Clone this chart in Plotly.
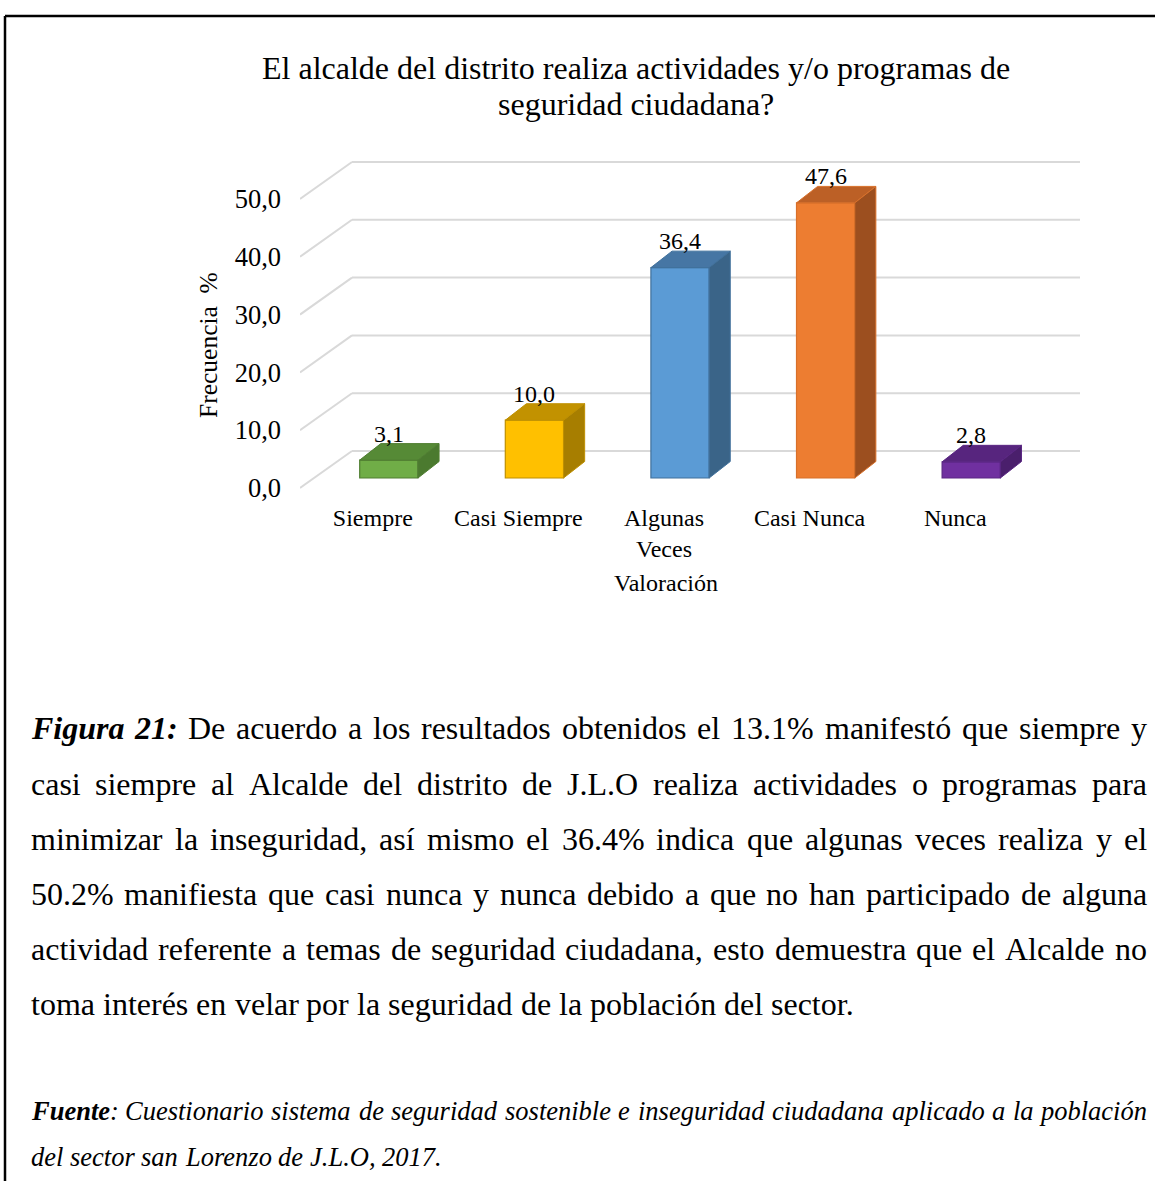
import plotly.graph_objects as go

# ---------------- data ----------------
TITLE_LINES = ["El alcalde del distrito realiza actividades y/o programas de",
               "seguridad ciudadana?"]
CATEGORIES = ["Siempre", "Casi Siempre", "Algunas Veces", "Casi Nunca", "Nunca"]
CATEGORY_LABELS = ["Siempre", "Casi Siempre", "Algunas<br>Veces", "Casi Nunca", "Nunca"]
VALUES = [3.1, 10.0, 36.4, 47.6, 2.8]
VALUE_LABELS = ["3,1", "10,0", "36,4", "47,6", "2,8"]
Y_TICKS = [0, 10, 20, 30, 40, 50]
Y_TICK_LABELS = ["0,0", "10,0", "20,0", "30,0", "40,0", "50,0"]
X_TITLE = "Valoración"
Y_TITLE = "Frecuencia\u00a0\u00a0%"

CAPTION_LINES = [
    "Figura 21: De acuerdo a los resultados obtenidos el 13.1% manifestó que siempre y",
    "casi siempre al Alcalde del distrito de J.L.O realiza actividades o programas para",
    "minimizar la inseguridad, así mismo el 36.4% indica que algunas veces realiza y el",
    "50.2% manifiesta que casi nunca y nunca debido a que no han participado de alguna",
    "actividad referente a temas de seguridad ciudadana, esto demuestra que el Alcalde no",
    "toma interés en velar por la seguridad de la población del sector.",
]
CAPTION_LEAD = ["Figura", "21:"]
SOURCE_LINES = [
    "Fuente: Cuestionario sistema de seguridad sostenible e inseguridad ciudadana aplicado a la población",
    "del sector san Lorenzo de J.L.O, 2017.",
]
SOURCE_LEAD = "Fuente"

# ---------------- style ----------------
FRONT = ["#70AD47", "#FFC000", "#5B9BD5", "#ED7D31", "#7030A0"]
TOP = ["#568A36", "#C29200", "#4676A4", "#BC6026", "#57257E"]
SIDE = ["#4B7A2F", "#A77E00", "#3A6488", "#9C4F1F", "#4A1F6C"]
EDGE = ["#507E32", "#BF9000", "#41719C", "#D8702A", "#5A2683"]
GRID = "#D9D9D9"
FONT = "Liberation Serif"

W, H = 1155, 1181
# pseudo-3D geometry in axis units
DEPTH_DX, DEPTH_DY = 0.357, 6.4        # back wall offset
BAR_DX, BAR_DY = 0.11, 1.73            # bar front-plane offset
BAR_W = 0.4
BAR_DEPTH_DX, BAR_DEPTH_DY = 0.145, 2.85
Y_PX = 5.78

def px(x):
    return x / W

def py(y):
    return 1 - y / H

fig = go.Figure()

# bar front faces
fig.add_trace(go.Bar(
    x=[i + BAR_DX for i in range(len(VALUES))], y=VALUES, base=[BAR_DY] * len(VALUES),
    width=BAR_W, marker=dict(color=FRONT, line=dict(color=EDGE, width=1.2)),
    hoverinfo="skip", showlegend=False))

# top and side faces
for i, v in enumerate(VALUES):
    xl = i + BAR_DX - BAR_W / 2
    xr = xl + BAR_W
    yb = BAR_DY
    yt = BAR_DY + v
    fig.add_trace(go.Scatter(
        x=[xl, xr, xr + BAR_DEPTH_DX, xl + BAR_DEPTH_DX, xl],
        y=[yt, yt, yt + BAR_DEPTH_DY, yt + BAR_DEPTH_DY, yt],
        fill="toself", fillcolor=TOP[i], mode="lines",
        line=dict(color=EDGE[i], width=1), hoverinfo="skip", showlegend=False))
    fig.add_trace(go.Scatter(
        x=[xr, xr, xr + BAR_DEPTH_DX, xr + BAR_DEPTH_DX, xr],
        y=[yb, yt, yt + BAR_DEPTH_DY, yb + BAR_DEPTH_DY, yb],
        fill="toself", fillcolor=SIDE[i], mode="lines",
        line=dict(color=EDGE[i], width=1), hoverinfo="skip", showlegend=False))
    fig.add_annotation(x=i + BAR_DX, y=yt + BAR_DEPTH_DY, xref="x", yref="y",
                       text=VALUE_LABELS[i], showarrow=False, yanchor="bottom",
                       yshift=-5, font=dict(size=24, color="black"))

# back wall gridlines + diagonal side wall lines
shapes = []
xl0 = -0.5
xr0 = len(CATEGORIES) - 0.5
for t in Y_TICKS:
    shapes.append(dict(type="line", xref="x", yref="y", layer="below",
                       x0=xl0, y0=t, x1=xl0 + DEPTH_DX, y1=t + DEPTH_DY,
                       line=dict(color=GRID, width=2)))
    shapes.append(dict(type="line", xref="x", yref="y", layer="below",
                       x0=xl0 + DEPTH_DX, y0=t + DEPTH_DY, x1=xr0 + DEPTH_DX, y1=t + DEPTH_DY,
                       line=dict(color=GRID, width=2)))
# frame
shapes.append(dict(type="line", xref="paper", yref="paper", x0=px(5), y0=py(16), x1=1, y1=py(16),
                   line=dict(color="black", width=2.5)))
shapes.append(dict(type="line", xref="paper", yref="paper", x0=px(5), y0=py(16), x1=px(5), y1=0,
                   line=dict(color="black", width=2.5)))

# ---------------- text ----------------
REG = {' ': 250, 'a': 444, 'b': 500, 'c': 444, 'd': 500, 'e': 444, 'f': 333, 'g': 500, 'h': 500,
       'i': 278, 'j': 278, 'k': 500, 'l': 278, 'm': 778, 'n': 500, 'o': 500, 'p': 500, 'q': 500,
       'r': 333, 's': 389, 't': 278, 'u': 500, 'v': 500, 'w': 722, 'x': 500, 'y': 500, 'z': 444,
       'A': 722, 'D': 722, 'J': 389, 'L': 611, 'O': 722, '.': 250, ',': 250, ':': 278, '%': 833,
       'á': 444, 'é': 444, 'í': 278, 'ó': 500}
ITA = {' ': 250, 'a': 500, 'b': 500, 'c': 444, 'd': 500, 'e': 444, 'f': 278, 'g': 500, 'h': 500,
       'i': 278, 'j': 278, 'k': 444, 'l': 278, 'm': 722, 'n': 500, 'o': 500, 'p': 500, 'q': 500,
       'r': 389, 's': 389, 't': 278, 'u': 500, 'v': 444, 'w': 667, 'x': 444, 'y': 444, 'z': 389,
       'C': 667, 'L': 556, 'J': 444, 'O': 722, '.': 250, ',': 250, ':': 333, 'ó': 500}
BI = {'F': 667, 'i': 278, 'g': 500, 'u': 556, 'r': 389, 'a': 500, 'e': 444, 'n': 556, 't': 278,
      ':': 333}

def seg_width(text, table, size):
    return sum(table.get(c, 500) for c in text) / 1000 * size

def place_line(segs_list, y_px, size, justify, x0=31, x1=1147):
    widths = [sum(seg_width(t, tb, size) for t, tb, _ in segs) for segs in segs_list]
    n = len(segs_list)
    gap = (x1 - x0 - sum(widths)) / (n - 1) if justify else 0.25 * size
    x = x0
    for k, segs in enumerate(segs_list):
        html = "".join(h for _, _, h in segs)
        if justify and k == n - 1:
            fig.add_annotation(x=px(x1), y=py(y_px), xref="paper", yref="paper", text=html,
                               showarrow=False, xanchor="right", yanchor="middle",
                               borderpad=0, borderwidth=0, font=dict(size=size, color="black"))
        else:
            fig.add_annotation(x=px(x), y=py(y_px), xref="paper", yref="paper", text=html,
                               showarrow=False, xanchor="left", yanchor="middle",
                               borderpad=0, borderwidth=0, font=dict(size=size, color="black"))
        x += widths[k] + gap

CAP_Y = [728, 783.5, 839, 894, 949, 1004]
for li, line in enumerate(CAPTION_LINES):
    segs_list = []
    for w in line.split(" "):
        if li == 0 and w in CAPTION_LEAD:
            segs_list.append([(w, BI, "<b><i>%s</i></b>" % w)])
        else:
            segs_list.append([(w, REG, w)])
    place_line(segs_list, CAP_Y[li], 32, justify=(li < len(CAPTION_LINES) - 1))

SRC_Y = [1111, 1157]
for li, line in enumerate(SOURCE_LINES):
    segs_list = []
    for w in line.split(" "):
        if w.startswith(SOURCE_LEAD):
            rest = w[len(SOURCE_LEAD):]
            segs_list.append([(SOURCE_LEAD, BI, "<b><i>%s</i></b>" % SOURCE_LEAD),
                              (rest, ITA, "<i>%s</i>" % rest)])
        else:
            segs_list.append([(w, ITA, "<i>%s</i>" % w)])
    place_line(segs_list, SRC_Y[li], 26.5, justify=(li < len(SOURCE_LINES) - 1))

# title
for k, (t, yy) in enumerate(zip(TITLE_LINES, [68, 104])):
    fig.add_annotation(x=px(636), y=py(yy), xref="paper", yref="paper", text=t,
                       showarrow=False, xanchor="center", yanchor="middle",
                       font=dict(size=32, color="black"))
# axis titles
fig.add_annotation(x=px(666), y=py(583), xref="paper", yref="paper", text=X_TITLE,
                   showarrow=False, xanchor="center", yanchor="middle",
                   font=dict(size=24, color="black"))
fig.add_annotation(x=px(209), y=py(345), xref="paper", yref="paper", text=Y_TITLE,
                   showarrow=False, textangle=-90, xanchor="center", yanchor="middle",
                   font=dict(size=25.5, color="black"))

fig.update_layout(
    width=W, height=H, margin=dict(l=0, r=0, t=0, b=0),
    paper_bgcolor="white", plot_bgcolor="white",
    font=dict(family=FONT, color="black"),
    shapes=shapes, showlegend=False, bargap=0,
    xaxis=dict(domain=[px(300), px(1080)], range=[-0.5, len(CATEGORIES) - 0.5 + DEPTH_DX],
               tickmode="array", tickvals=list(range(len(CATEGORIES))), ticktext=CATEGORY_LABELS,
               showgrid=False, zeroline=False, showline=False, ticks="",
               tickfont=dict(size=24, color="black"), ticklabelstandoff=6, automargin=False,
               fixedrange=True),
    yaxis=dict(domain=[py(495), py(150)], range=[-7 / Y_PX, 338 / Y_PX],
               tickmode="array", tickvals=Y_TICKS, ticktext=Y_TICK_LABELS,
               showgrid=False, zeroline=False, showline=False, ticks="",
               tickfont=dict(size=26.5, color="black"), ticklabelstandoff=18, automargin=False,
               fixedrange=True),
)

fig.write_html("out.html",
               config={"displayModeBar": False, "staticPlot": True},
               post_script="document.body.style.margin='0';document.body.style.padding='0';"
                           "document.body.style.overflow='hidden';")
